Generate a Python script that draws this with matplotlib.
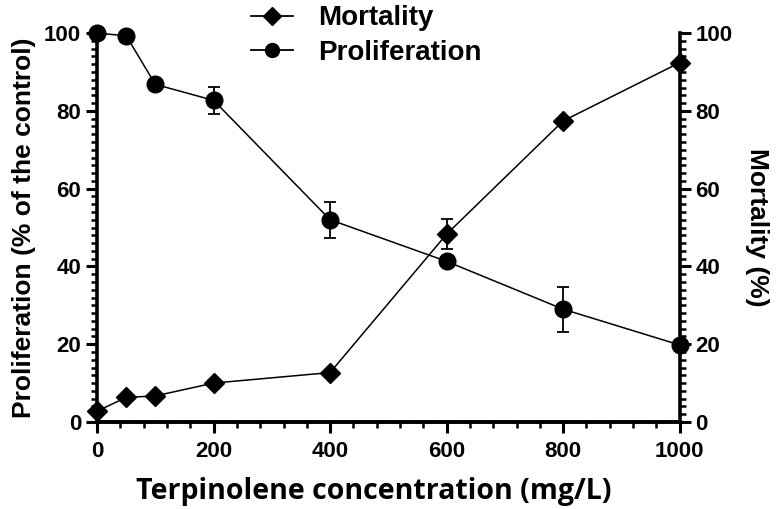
import matplotlib
matplotlib.use("Agg")
import matplotlib.pyplot as plt
from matplotlib.lines import Line2D
from matplotlib.ticker import MultipleLocator

conc=[0,50,100,200,400,600,800,1000]
prol=[100,99.3,86.8,82.7,52,41.3,29,19.8]
prol_err=[0,0,0,3.5,4.6,0,5.8,0]
mort=[2.8,6.3,6.7,10,12.7,48.3,77.4,92.4]
mort_err=[0,0,0,0,0,3.9,0,0]

plt.rcParams["font.family"]=["Liberation Sans","DejaVu Sans"]
plt.rcParams["font.weight"]="bold"

fig=plt.figure(figsize=(7.83,5.09),dpi=100)
ax=fig.add_axes([0.124,0.171,0.744,0.764])
ax2=ax.twinx()

ax.errorbar(conc,prol,yerr=prol_err,color="black",marker="o",markersize=12,
	linewidth=1.1,elinewidth=1.3,capsize=4,capthick=1.3,clip_on=False)
ax2.errorbar(conc,mort,yerr=mort_err,color="black",marker="D",markersize=10,
	linewidth=1.1,elinewidth=1.3,capsize=4,capthick=1.3,clip_on=False)

for a in (ax,ax2):
	a.set_xlim(0,1000)
	a.set_ylim(0,100)
	a.spines["top"].set_visible(False)
	for s in ("left","right","bottom"):
		a.spines[s].set_linewidth(2.6)
	a.yaxis.set_major_locator(MultipleLocator(20))
	a.yaxis.set_minor_locator(MultipleLocator(2))
	a.tick_params(which="major",length=8,width=2.2,labelsize=16)
	a.tick_params(which="minor",length=4,width=1.8)
ax.spines["right"].set_visible(False)
ax2.spines["left"].set_visible(False)
ax.xaxis.set_major_locator(MultipleLocator(200))
ax.xaxis.set_minor_locator(MultipleLocator(40))
ax.tick_params(axis="x",which="major",pad=6)

ax.set_xlabel("Terpinolene concentration (mg/L)",fontsize=20.5,fontweight="bold",
	family=["Open Sans","DejaVu Sans"],va="center")
ax.xaxis.set_label_coords(0.475,-0.18)
ax.set_ylabel("Proliferation (% of the control)",fontsize=19,fontweight="bold",labelpad=6)
ax2.set_ylabel("Mortality (%)",fontsize=19,fontweight="bold",rotation=270,labelpad=26)

h1=Line2D([],[],color="black",marker="D",markersize=9,linewidth=1.3)
h2=Line2D([],[],color="black",marker="o",markersize=10,linewidth=1.3)
fig.legend(handles=[h1,h2],labels=["Mortality","Proliferation"],loc="upper left",
	bbox_to_anchor=(0.303,1.017),frameon=False,handlelength=1.5,handletextpad=0.9,
	borderpad=0,labelspacing=0.3,prop={"weight":"bold","size":20})

fig.savefig("out.png",dpi=100)
